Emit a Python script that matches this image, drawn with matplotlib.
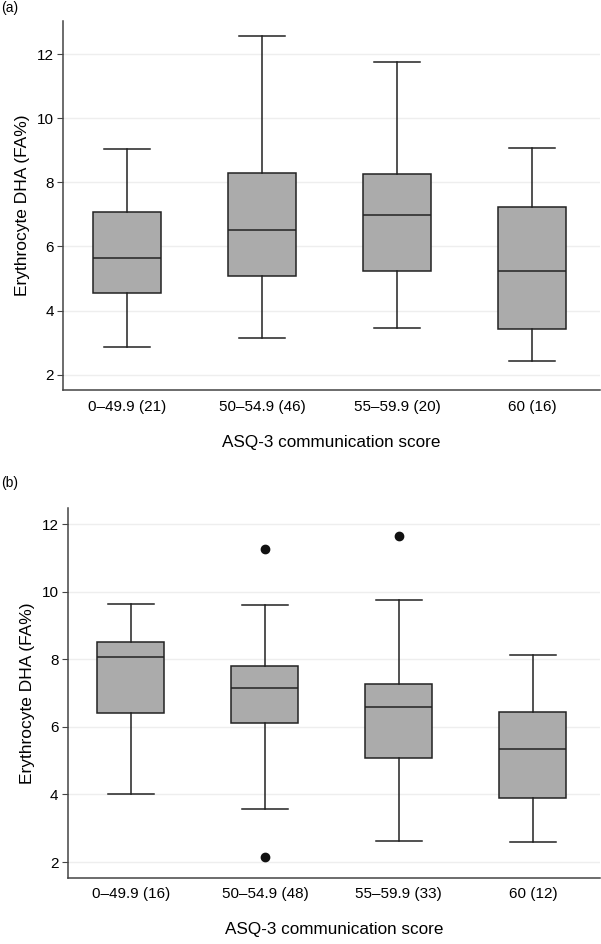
"""Erythrocyte DHA by ASQ-3 communication score band, two cohorts (a) and (b)."""

import matplotlib

matplotlib.use("Agg")
import matplotlib.pyplot as plt  # noqa: E402

plt.rcParams["font.family"] = ["Liberation Sans", "DejaVu Sans"]

# panel (a)
labels_a = ["0–49.9 (21)", "50–54.9 (46)", "55–59.9 (20)", "60 (16)"]
whislo_a = [2.87, 3.14, 3.45, 2.42]
q1_a = [4.54, 5.09, 5.23, 3.43]
med_a = [5.63, 6.51, 6.99, 5.23]
q3_a = [7.08, 8.28, 8.27, 7.24]
whishi_a = [9.05, 12.57, 11.76, 9.08]
fliers_a = [[], [], [], []]

# panel (b)
labels_b = ["0–49.9 (16)", "50–54.9 (48)", "55–59.9 (33)", "60 (12)"]
whislo_b = [4.00, 3.58, 2.62, 2.60]
q1_b = [6.42, 6.11, 5.09, 3.91]
med_b = [8.08, 7.15, 6.58, 5.36]
q3_b = [8.50, 7.81, 7.27, 6.45]
whishi_b = [9.65, 9.61, 9.76, 8.13]
fliers_b = [[], [11.26, 2.16], [11.64], []]

yticks = [2, 4, 6, 8, 10, 12]


def draw(ax, labels, whislo, q1, med, q3, whishi, fliers, ylim):
    stats = [
        dict(label=l, whislo=lo, q1=a, med=m, q3=b, whishi=hi, fliers=f)
        for l, lo, a, m, b, hi, f in zip(labels, whislo, q1, med, q3, whishi, fliers)
    ]
    ax.bxp(
        stats,
        positions=[1, 2, 3, 4],
        widths=0.5,
        patch_artist=True,
        showfliers=True,
        boxprops=dict(facecolor="#ababab", edgecolor="#222222", lw=1.1),
        medianprops=dict(color="#222222", lw=1.1),
        whiskerprops=dict(color="#222222", lw=1.1),
        capprops=dict(color="#222222", lw=1.1),
        capwidths=0.34,
        flierprops=dict(marker="o", markersize=6, markerfacecolor="#111111",
                        markeredgecolor="#111111"),
    )
    ax.set_xlim(0.53, 4.5)
    ax.set_ylim(*ylim)
    ax.set_yticks(yticks)
    ax.grid(axis="y", color="#eeeeee", lw=1)
    ax.set_axisbelow(True)
    for s in ("top", "right"):
        ax.spines[s].set_visible(False)
    for s in ("left", "bottom"):
        ax.spines[s].set_color("#444444")
        ax.spines[s].set_linewidth(1.1)
    ax.tick_params(axis="x", length=0, pad=7, labelsize=11)
    ax.tick_params(axis="y", length=4.3, width=0.8, color="#444444", pad=2.5, labelsize=11)
    ax.set_xlabel("ASQ-3 communication score", fontsize=12.3, labelpad=15)
    ax.set_ylabel("Erythrocyte DHA (FA%)", fontsize=12.5, labelpad=5)


fig = plt.figure(figsize=(6.01, 9.44), dpi=100)
ax_a = fig.add_axes([0.1053, 0.5869, 0.8927, 0.3912])
ax_b = fig.add_axes([0.1131, 0.0702, 0.8849, 0.3913])

draw(ax_a, labels_a, whislo_a, q1_a, med_a, q3_a, whishi_a, fliers_a, (1.52, 13.05))
draw(ax_b, labels_b, whislo_b, q1_b, med_b, q3_b, whishi_b, fliers_b, (1.535, 12.47))

fig.text(0.002, 0.991, "(a)", fontsize=10, va="center")
fig.text(0.002, 0.488, "(b)", fontsize=10, va="center")

fig.savefig("out.png", dpi=100)
